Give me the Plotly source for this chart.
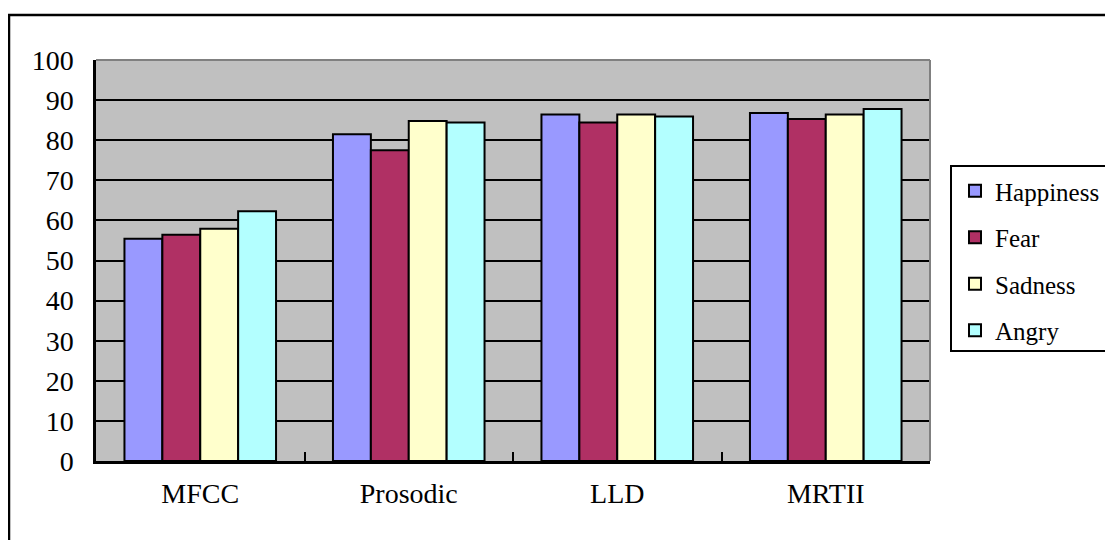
import plotly.graph_objects as go

categories = ["MFCC", "Prosodic", "LLD", "MRTII"]
happiness = [55.4, 81.5, 86.4, 86.8]
fear = [56.4, 77.5, 84.4, 85.3]
sadness = [57.9, 84.8, 86.4, 86.4]
angry = [62.3, 84.4, 85.9, 87.8]

series = [
    ("Happiness", happiness, "#9999FF"),
    ("Fear", fear, "#B03064"),
    ("Sadness", sadness, "#FFFFCC"),
    ("Angry", angry, "#B3FFFF"),
]

FONT = "Liberation Serif"

fig = go.Figure()
for i, (name, vals, col) in enumerate(series):
    fig.add_trace(go.Bar(
        x=categories, y=vals, name=name, legendgroup=name,
        marker=dict(color=col, line=dict(color="black", width=2)),
    ))

# page has an 8px body margin; work in figure coordinates
OFF = 8
W, H = 1113 - OFF, 540 - OFF
L, R, T, B = 96 - OFF, 930 - OFF, 60 - OFF, 461 - OFF

def px(x):
    return (x - OFF - L) / (R - L)

def py(y):
    return (B - (y - OFF)) / (B - T)

fig.update_layout(
    width=W, height=H,
    margin=dict(l=L, r=W - R, t=T, b=H - B, autoexpand=False),
    paper_bgcolor="white",
    plot_bgcolor="#C0C0C0",
    barmode="group",
    bargap=0.273,
    bargroupgap=0,
    font=dict(family=FONT, size=28, color="black"),
    showlegend=True,
    legend=dict(
        x=px(955), y=py(168), xanchor="left", yanchor="top",
        bgcolor="rgba(0,0,0,0)", borderwidth=0,
        font=dict(family=FONT, size=25, color="black"),
        tracegroupgap=11, itemwidth=30,
    ),
    xaxis=dict(
        showgrid=False, showline=True, linecolor="black", linewidth=2.5,
        ticks="inside", ticklen=9, tickwidth=2, tickcolor="black",
        tickson="boundaries", ticklabelstandoff=6,
        mirror=False,
    ),
    yaxis=dict(
        range=[0, 100], dtick=10, tick0=0,
        showgrid=True, gridcolor="black", gridwidth=2,
        showline=True, linecolor="black", linewidth=2.5,
        ticks="inside", ticklen=7, tickwidth=2, tickcolor="black",
        ticklabelstandoff=14, zeroline=False,
    ),
    shapes=[
        dict(type="line", xref="paper", yref="paper", x0=0, x1=1, y0=1, y1=1,
             line=dict(color="#808080", width=2)),
        dict(type="line", xref="paper", yref="paper", x0=1, x1=1, y0=0, y1=1,
             line=dict(color="#808080", width=2)),
        dict(type="rect", xref="paper", yref="paper",
             x0=px(9), x1=px(1130), y0=py(15), y1=py(560),
             line=dict(color="black", width=2.5), layer="below"),
        dict(type="rect", xref="paper", yref="paper",
             x0=px(951), x1=px(1130), y0=py(166), y1=py(351),
             line=dict(color="black", width=2)),
    ],
)

fig.write_html("out.html")
